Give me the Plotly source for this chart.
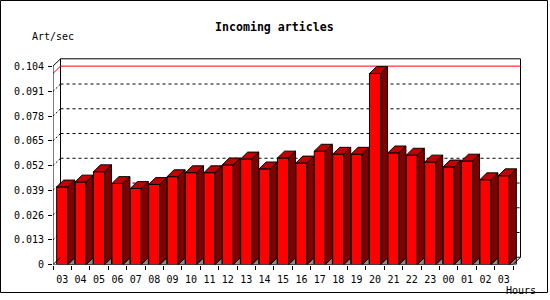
import plotly.graph_objects as go

hours = ["03", "04", "05", "06", "07", "08", "09", "10", "11", "12", "13", "14",
         "15", "16", "17", "18", "19", "20", "21", "22", "23", "00", "01", "02", "03"]
art_per_sec = [0.0408, 0.0434, 0.0488, 0.0426, 0.0400, 0.0421, 0.0462, 0.0483,
               0.0483, 0.0524, 0.0555, 0.0503, 0.0560, 0.0534, 0.0596, 0.0580,
               0.0580, 0.1004, 0.0587, 0.0575, 0.0539, 0.0513, 0.0544, 0.0446,
               0.0467]
y_tick_vals = [0, 0.013, 0.026, 0.039, 0.052, 0.065, 0.078, 0.091, 0.104]
y_tick_text = ["0", "0.013", "0.026", "0.039", "0.052", "0.065", "0.078", "0.091", "0.104"]

W, H = 550, 300
FX0 = 53.0          # pixel of front x = -0.5
CAT = 18.4          # pixels per category
FY0 = 270.0         # pixel of front y = 0
VPP = 0.104 / 202.0  # value per pixel
DEPTH = 7.5
BAR_DEPTH = 7.0
BAR_W = 0.6

dom_x = (53.0, 523.0)
dom_y = (270.0, 58.0)
xr = [-0.5, -0.5 + (dom_x[1] - FX0) / CAT]
yr = [0, (FY0 - dom_y[1]) * VPP]
dx, dy = DEPTH / CAT, DEPTH * VPP
bdx, bdy = BAR_DEPTH / CAT, BAR_DEPTH * VPP
n = len(hours)
xs = list(range(n))
front_top = (FY0 - 67.5) * VPP
x_last = n - 0.5
vmax = max(art_per_sec)

FONT = "DejaVu Sans Mono"

fig = go.Figure()

# front faces
fig.add_trace(go.Bar(x=xs, y=art_per_sec, width=BAR_W,
                     marker=dict(color="#FF0000", line=dict(color="black", width=1)),
                     hoverinfo="skip"))

side_x, side_y, top_x, top_y, sh_x, sh_y = [], [], [], [], [], []
for i, v in zip(xs, art_per_sec):
    r = i + BAR_W / 2
    l = i - BAR_W / 2
    side_x += [r, r, r + bdx, r + bdx, r, None]
    side_y += [0, v, v + bdy, bdy, 0, None]
    top_x += [l, r, r + bdx, l + bdx, l, None]
    top_y += [v, v, v + bdy, v + bdy, v, None]
    sh_x += [r, r + bdx, r + bdx, r, None]
    sh_y += [0, bdy, 0, 0, None]

fig.add_trace(go.Scatter(x=sh_x, y=sh_y, mode="lines", fill="toself",
                         fillcolor="#8C8C8C", line=dict(color="black", width=1),
                         hoverinfo="skip"))
fig.add_trace(go.Scatter(x=side_x, y=side_y, mode="lines", fill="toself",
                         fillcolor="#800000", line=dict(color="black", width=1),
                         hoverinfo="skip"))
fig.add_trace(go.Scatter(x=top_x, y=top_y, mode="lines", fill="toself",
                         fillcolor="#C00000", line=dict(color="black", width=1),
                         hoverinfo="skip"))

# front axis lines and corner diagonals
ax_x = [-0.5, -0.5, None, -0.5, x_last, None, -0.5, -0.5 + dx, None,
        -0.5, -0.5 + dx, None, x_last, x_last + dx]
ax_y = [0, front_top, None, 0, 0, None, front_top, front_top + dy, None,
        0, dy, None, 0, dy]
fig.add_trace(go.Scatter(x=ax_x, y=ax_y, mode="lines",
                         line=dict(color="black", width=1), hoverinfo="skip"))

shapes = []
# back plane
shapes.append(dict(type="rect", xref="x", yref="y", x0=-0.5 + dx, x1=x_last + dx,
                   y0=dy, y1=front_top + dy, line=dict(color="black", width=1),
                   fillcolor="white", layer="below"))
# dotted grid on back plane
for v in y_tick_vals[1:-1]:
    shapes.append(dict(type="line", xref="x", yref="y", x0=-0.5 + dx, x1=x_last + dx,
                       y0=v + dy, y1=v + dy, line=dict(color="black", width=1, dash="3px,3px"),
                       layer="below"))
    shapes.append(dict(type="line", xref="x", yref="y", x0=-0.5, x1=-0.5 + dx,
                       y0=v, y1=v + dy, line=dict(color="black", width=1, dash="2px,2px"),
                       layer="below"))
# red max line
shapes.append(dict(type="line", xref="x", yref="y", x0=-0.5 + dx, x1=x_last + dx,
                   y0=vmax + dy, y1=vmax + dy, line=dict(color="#FF0000", width=1),
                   layer="below"))
shapes.append(dict(type="line", xref="x", yref="y", x0=-0.5, x1=-0.5 + dx,
                   y0=vmax, y1=vmax + dy, line=dict(color="#FF0000", width=1),
                   layer="below"))
# outer border
shapes.append(dict(type="rect", xref="paper", yref="paper",
                   x0=0.5 / W, x1=547.5 / W, y0=1 - 298.5 / H, y1=1 - 0.5 / H,
                   line=dict(color="black", width=1)))

annotations = [
    dict(text="<b>Incoming articles</b>", x=274 / W, y=1 - 28 / H, xref="paper", yref="paper",
         xanchor="center", yanchor="middle", showarrow=False,
         font=dict(family=FONT, size=11.6, color="black")),
    dict(text="Art/sec", x=30 / W, y=1 - 37 / H, xref="paper", yref="paper",
         xanchor="left", yanchor="middle", showarrow=False,
         font=dict(family=FONT, size=10, color="black")),
    dict(text="Hours", x=504 / W, y=1 - 296 / H, xref="paper", yref="paper",
         xanchor="left", yanchor="middle", showarrow=False,
         font=dict(family=FONT, size=10, color="black")),
]

fig.update_layout(
    width=W, height=H, margin=dict(l=0, r=0, t=0, b=0),
    paper_bgcolor="white", plot_bgcolor="white", showlegend=False,
    shapes=shapes, annotations=annotations,
    font=dict(family=FONT, size=10, color="black"),
    xaxis=dict(domain=[dom_x[0] / W, dom_x[1] / W], range=xr,
               tickmode="array", tickvals=xs, ticktext=hours, ticks="",
               showgrid=False, zeroline=False, showline=False,
               tickfont=dict(family=FONT, size=10, color="black"),
               minor=dict(tickmode="array", tickvals=[i - 0.5 for i in range(n + 1)],
                          ticks="outside", ticklen=4, tickcolor="black", tickwidth=1,
                          showgrid=False),
               ticklabelstandoff=7, fixedrange=True),
    yaxis=dict(domain=[1 - dom_y[0] / H, 1 - dom_y[1] / H], range=yr,
               tickmode="array", tickvals=y_tick_vals, ticktext=y_tick_text,
               ticks="outside", ticklen=4, tickcolor="black", tickwidth=1,
               showgrid=False, zeroline=False, showline=False,
               tickfont=dict(family=FONT, size=10, color="black"),
               ticklabelstandoff=2, fixedrange=True),
)

fig.write_html("out.html")
